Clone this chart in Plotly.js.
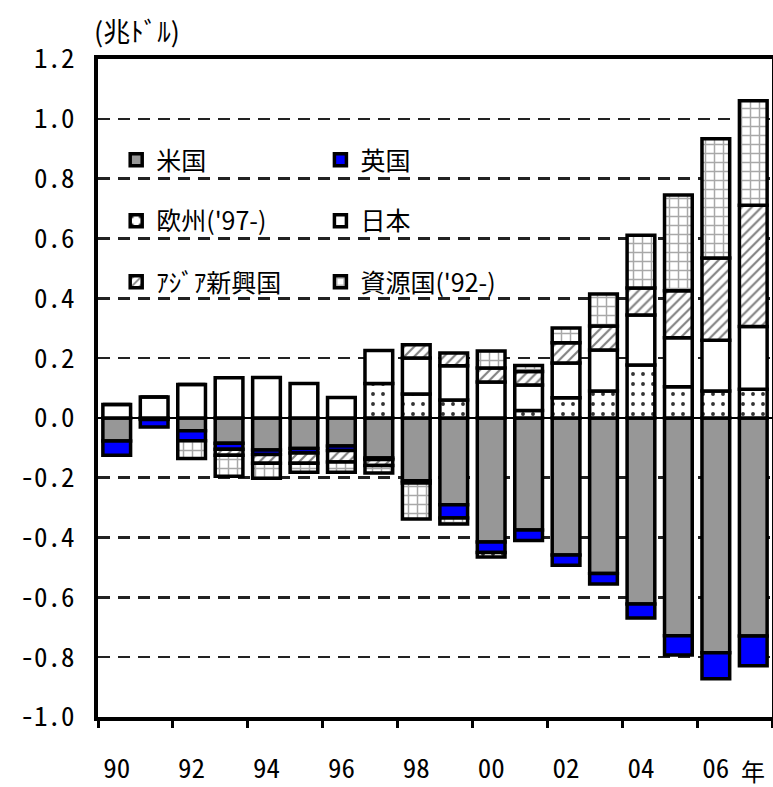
<!DOCTYPE html>
<html>
<head>
<meta charset="utf-8">
<script src="https://cdn.plot.ly/plotly-3.0.1.min.js"></script>
<style>
  html, body { margin: 0; padding: 0; background: #fff; }
  #chart { width: 773px; height: 787px; }
</style>
</head>
<body>
<div id="chart"></div>
<script>
// ---- data (trillion USD) ----
const years = [1990,1991,1992,1993,1994,1995,1996,1997,1998,1999,2000,2001,2002,2003,2004,2005,2006,2007];
const usa    = [-0.077,-0.005,-0.043,-0.085,-0.107,-0.102,-0.094,-0.134,-0.210,-0.290,-0.415,-0.375,-0.458,-0.520,-0.622,-0.728,-0.785,-0.729];
const uk     = [-0.048,-0.025,-0.033,-0.020,-0.015,-0.015,-0.015,-0.005,-0.008,-0.045,-0.035,-0.035,-0.035,-0.035,-0.047,-0.065,-0.087,-0.100];
const europe = [null,null,null,null,null,null,null,0.115,0.080,0.060,-0.015,0.025,0.067,0.090,0.177,0.104,0.090,0.096];
const japan  = [0.045,0.070,0.112,0.134,0.135,0.115,0.068,0.110,0.120,0.114,0.120,0.085,0.117,0.137,0.167,0.164,0.170,0.210];
const asia   = [0,0,0,-0.020,-0.030,-0.035,-0.038,-0.020,0.045,0.043,0.047,0.045,0.067,0.080,0.090,0.157,0.275,0.405];
const resources = [null,null,-0.060,-0.070,-0.050,-0.030,-0.035,-0.025,-0.120,-0.020,0.057,0.020,0.050,0.107,0.177,0.320,0.398,0.349];

const seriesNames = ['米国','英国','欧州(\'97-)','日本','ｱｼﾞｱ新興国','資源国(\'92-)'];
const yTickVals = [-1.0,-0.8,-0.6,-0.4,-0.2,0.0,0.2,0.4,0.6,0.8,1.0,1.2];
const yTickText = ['-1.0','-0.8','-0.6','-0.4','-0.2','0.0','0.2','0.4','0.6','0.8','1.0','1.2'];
const xLabelVals = [1990,1992,1994,1996,1998,2000,2002,2004,2006];
const xLabelText = ['90','92','94','96','98','00','02','04','06'];
const xTickMarks = [1989.5,1991.5,1993.5,1995.5,1997.5,1999.5,2001.5,2003.5,2005.5,2007.5];
const unitLabel = '(兆ﾄﾞﾙ)';
const yearLabel = '年';

// ---- styles ----
const LW = 3.5;
const styles = [
  {color:'#979797'},
  {color:'#0000ff'},
  {color:'#ffffff', pattern:{shape:'.', fgcolor:'#333333', bgcolor:'#ffffff', size:10, solidity:0.12}},
  {color:'#ffffff'},
  {color:'#ffffff', pattern:{shape:'/', fgcolor:'#808080', bgcolor:'#ffffff', size:7, solidity:0.3}},
  {color:'#ffffff', pattern:{shape:'+', fgcolor:'#a8a8a8', bgcolor:'#ffffff', size:9, solidity:0.3}}
];
const values = [usa, uk, europe, japan, asia, resources];
const legendIds = ['legend','legend2','legend3','legend4','legend5','legend6'];

const traces = values.map((v, i) => {
  const m = {color: styles[i].color, line: {color:'#000000', width: LW}};
  if (styles[i].pattern) m.pattern = styles[i].pattern;
  return {
    type: 'bar', x: years, y: v, name: seriesNames[i],
    width: 0.74, marker: m, legend: legendIds[i], hoverinfo: 'skip'
  };
});
// empty helper trace so the tick-mark axis (x2) is drawn
traces.push({type: 'scatter', x: [], y: [], xaxis: 'x2', yaxis: 'y', showlegend: false, hoverinfo: 'skip'});

const FONT = "'Noto Sans CJK JP', sans-serif";
const NUMFONT = "'Noto Sans Mono CJK JP', 'Liberation Mono', monospace";
const legendCols = [0.027, 0.330];
const legendRows = [0.8465, 0.7538, 0.661];
const layout = {
  width: 773, height: 787,
  margin: {l: 98, r: 1, t: 59, b: 70},
  paper_bgcolor: '#ffffff', plot_bgcolor: '#ffffff',
  barmode: 'relative',
  bargap: 0,
  hovermode: false,
  showlegend: true,
  font: {family: FONT, color: '#000000', size: 22},
  xaxis: {
    type: 'linear', range: [1989.5, 2007.5],
    tickmode: 'array', tickvals: xLabelVals, ticktext: xLabelText,
    ticks: '', ticklabelstandoff: 25,
    tickfont: {family: NUMFONT, size: 27},
    showline: true, linewidth: 4, linecolor: '#000', mirror: true,
    showgrid: false, zeroline: false, fixedrange: true
  },
  xaxis2: {
    type: 'linear', range: [1989.5, 2007.5], overlaying: 'x', anchor: 'y', side: 'bottom',
    tickmode: 'array', tickvals: xTickMarks, showticklabels: false,
    ticks: 'outside', ticklen: 10, tickwidth: 3, tickcolor: '#000',
    showline: false, showgrid: false, zeroline: false, fixedrange: true
  },
  yaxis: {
    range: [-1.0, 1.2],
    tickmode: 'array', tickvals: yTickVals, ticktext: yTickText,
    ticks: '', ticklabelstandoff: 14,
    tickfont: {family: NUMFONT, size: 27},
    showline: true, linewidth: 4, linecolor: '#000', mirror: true,
    showgrid: true, gridcolor: '#222222', gridwidth: 2.5, griddash: '12px,8px',
    zeroline: true, zerolinecolor: '#000', zerolinewidth: 1.5,
    fixedrange: true
  },
  shapes: [{
    type: 'rect', layer: 'between', xref: 'paper', yref: 'y',
    x0: 0.033, x1: 0.663, y0: 0.33, y1: 0.93,
    fillcolor: '#ffffff', line: {width: 0}
  }],
  annotations: [
    {text: unitLabel, xref: 'paper', yref: 'paper', x: 0.058, y: 1.043,
     xanchor: 'center', yanchor: 'middle', showarrow: false,
     font: {family: FONT, size: 27}},
    {text: yearLabel, xref: 'x', yref: 'paper', x: 2007.0, y: -0.081,
     xanchor: 'center', yanchor: 'middle', showarrow: false,
     font: {family: FONT, size: 24}}
  ]
};
legendIds.forEach((id, i) => {
  layout[id] = {
    visible: true,
    x: legendCols[i % 2], y: legendRows[Math.floor(i / 2)],
    xanchor: 'left', yanchor: 'middle',
    bgcolor: 'rgba(0,0,0,0)', borderwidth: 0,
    font: {family: FONT, size: 25}
  };
});

Plotly.newPlot('chart', traces, layout, {displayModeBar: false, staticPlot: true});
</script>
</body>
</html>
